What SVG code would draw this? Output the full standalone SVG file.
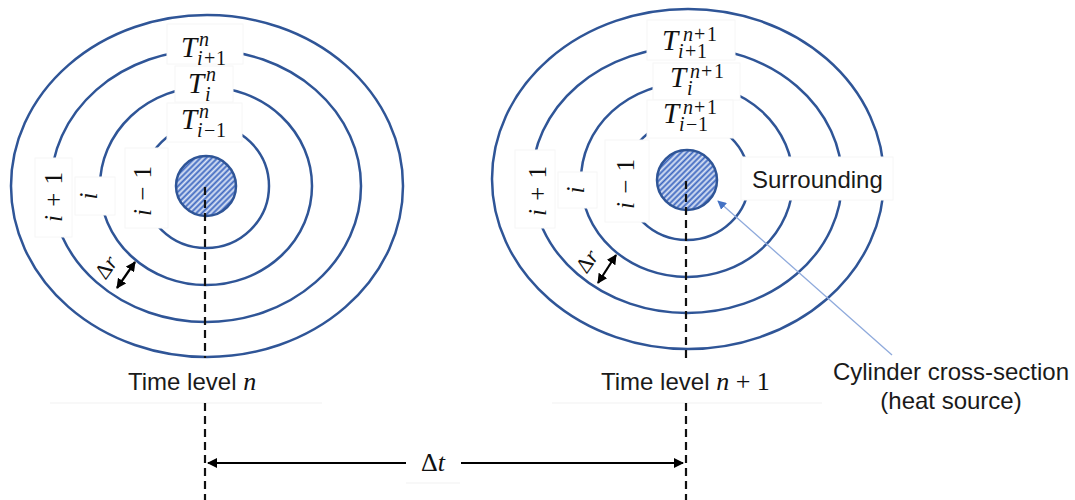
<svg xmlns="http://www.w3.org/2000/svg" width="1075" height="500" viewBox="0 0 1075 500">
<style>
.ring{fill:none;stroke:#2F5597;stroke-width:2.5}
.box{fill:#fff;stroke:#f6f6f6;stroke-width:1}
.m{font-family:"Liberation Serif","DejaVu Serif",serif;fill:#111}
.it{font-style:italic}
.T{font-size:29px;font-style:italic}
.sc{font-size:20px}
.lab{font-size:25px}
.s{font-family:"Liberation Sans",Arial,sans-serif;font-size:24px;fill:#1a1a1a}
.dash{stroke:#111;stroke-width:2.2;stroke-dasharray:8 5;fill:none}
.arr{stroke:#000;stroke-width:2.2;fill:none}
.faint{stroke:#f1f1f1;stroke-width:1;fill:none}
</style>
<defs>
<pattern id="hatch" patternUnits="userSpaceOnUse" width="4" height="4" patternTransform="rotate(-45)">
<rect width="4" height="4" fill="#dfe7f6"/>
<line x1="0" y1="1.5" x2="4" y2="1.5" stroke="#3d67c0" stroke-width="2"/>
</pattern>
<marker id="ah" viewBox="0 0 10 10" refX="9" refY="5" markerWidth="10" markerHeight="10" markerUnits="userSpaceOnUse" orient="auto-start-reverse">
<path d="M0,0 L10,5 L0,10 z" fill="#000"/>
</marker>
<marker id="bh" viewBox="0 0 10 10" refX="9" refY="5" markerWidth="9" markerHeight="9" markerUnits="userSpaceOnUse" orient="auto">
<path d="M0,0 L10,5 L0,10 z" fill="#4472C4"/>
</marker>
</defs>
<rect width="1075" height="500" fill="#fff"/>

<g id="left-figure">
<g id="left-rings">
<ellipse class="ring" cx="207" cy="186" rx="196" ry="171"/>
<ellipse class="ring" cx="206" cy="186" rx="155" ry="136"/>
<ellipse class="ring" cx="206" cy="186" rx="106" ry="99"/>
<ellipse class="ring" cx="206" cy="186" rx="63" ry="62"/>
</g>
<g id="left-cylinder">
<circle cx="206" cy="186" r="30" fill="url(#hatch)" stroke="#2F5597" stroke-width="2.5"/>
</g>
<g id="left-T-ip1">
<rect class="box" x="167" y="24" width="76" height="40"/>
<text class="m"><tspan class="T" x="181" y="57">T</tspan><tspan class="sc it" x="199" y="46">n</tspan><tspan class="sc it" x="197" y="65">i</tspan><tspan class="sc" x="204" y="65">+</tspan><tspan class="sc" x="216" y="65">1</tspan></text>
</g>
<g id="left-T-i">
<rect class="box" x="175" y="66" width="58" height="36"/>
<text class="m"><tspan class="T" x="188" y="93">T</tspan><tspan class="sc it" x="206" y="81">n</tspan><tspan class="sc it" x="205" y="101">i</tspan></text>
</g>
<g id="left-T-im1">
<rect class="box" x="167" y="103" width="75" height="39"/>
<text class="m"><tspan class="T" x="181" y="129">T</tspan><tspan class="sc it" x="199" y="118">n</tspan><tspan class="sc it" x="197" y="137">i</tspan><tspan class="sc" x="204" y="137">−</tspan><tspan class="sc" x="216" y="137">1</tspan></text>
</g>
<g id="left-lab-ip1">
<rect class="box" x="35" y="158" width="37" height="79"/>
<text class="m lab" transform="translate(62,197) rotate(-90)" text-anchor="middle" word-spacing="2"><tspan class="it">i</tspan> + 1</text>
</g>
<g id="left-lab-i">
<rect class="box" x="75" y="177" width="40" height="38"/>
<text class="m lab it" transform="translate(97,196) rotate(-90)" text-anchor="middle">i</text>
</g>
<g id="left-lab-im1">
<rect class="box" x="125" y="148" width="43" height="80"/>
<text class="m lab" transform="translate(151,191) rotate(-90)" text-anchor="middle" word-spacing="2"><tspan class="it">i</tspan> − 1</text>
</g>
<g id="left-dr">
<text class="m" font-size="22" transform="translate(107,268) rotate(-55)" text-anchor="middle" y="6">Δ<tspan class="it">r</tspan></text>
</g>
<g id="left-time">
<text class="s" x="128" y="390">Time level <tspan class="m it" font-size="26">n</tspan></text>
</g>
</g>

<g id="right-figure">
<g id="right-rings">
<ellipse class="ring" cx="688" cy="179" rx="196" ry="170"/>
<ellipse class="ring" cx="687" cy="180" rx="155" ry="133"/>
<ellipse class="ring" cx="687" cy="180" rx="106" ry="97"/>
<ellipse class="ring" cx="687" cy="180" rx="62" ry="60"/>
</g>
<g id="right-cylinder">
<circle cx="687" cy="180" r="30" fill="url(#hatch)" stroke="#2F5597" stroke-width="2.5"/>
</g>
<g id="right-T-ip1">
<rect class="box" x="647" y="20" width="88" height="40"/>
<text class="m"><tspan class="T" x="662" y="50">T</tspan><tspan class="sc it" x="683" y="41">n</tspan><tspan class="sc" x="694" y="41">+</tspan><tspan class="sc" x="707" y="41">1</tspan><tspan class="sc it" x="678" y="58">i</tspan><tspan class="sc" x="685" y="58">+</tspan><tspan class="sc" x="697" y="58">1</tspan></text>
</g>
<g id="right-T-i">
<rect class="box" x="653" y="63" width="87" height="37"/>
<text class="m"><tspan class="T" x="670" y="87">T</tspan><tspan class="sc it" x="690" y="78">n</tspan><tspan class="sc" x="701" y="78">+</tspan><tspan class="sc" x="714" y="78">1</tspan><tspan class="sc it" x="687" y="95">i</tspan></text>
</g>
<g id="right-T-im1">
<rect class="box" x="647" y="100" width="86" height="38"/>
<text class="m"><tspan class="T" x="663" y="123">T</tspan><tspan class="sc it" x="683" y="114">n</tspan><tspan class="sc" x="694" y="114">+</tspan><tspan class="sc" x="707" y="114">1</tspan><tspan class="sc it" x="679" y="131">i</tspan><tspan class="sc" x="686" y="131">−</tspan><tspan class="sc" x="698" y="131">1</tspan></text>
</g>
<g id="right-lab-ip1">
<rect class="box" x="515" y="150" width="40" height="78"/>
<text class="m lab" transform="translate(546,191) rotate(-90)" text-anchor="middle" word-spacing="2"><tspan class="it">i</tspan> + 1</text>
</g>
<g id="right-lab-i">
<rect class="box" x="558" y="172" width="39" height="36"/>
<text class="m lab it" transform="translate(584,190) rotate(-90)" text-anchor="middle">i</text>
</g>
<g id="right-lab-im1">
<rect class="box" x="605" y="140" width="44" height="82"/>
<text class="m lab" transform="translate(634,184) rotate(-90)" text-anchor="middle" word-spacing="2"><tspan class="it">i</tspan> − 1</text>
</g>
<g id="surrounding">
<rect class="box" x="741" y="157" width="152" height="43"/>
<text class="s" x="752" y="188">Surrounding</text>
</g>
<g id="right-dr">
<text class="m" font-size="22" transform="translate(588,262) rotate(-55)" text-anchor="middle" y="6">Δ<tspan class="it">r</tspan></text>
</g>
<g id="right-time">
<text class="s" x="601" y="390">Time level <tspan class="m it" font-size="26">n</tspan><tspan class="m" font-size="26"> + 1</tspan></text>
</g>
</g>

<g id="cylinder-label">
<text class="s" x="951" y="380" text-anchor="middle">Cylinder cross-section</text>
<text class="s" x="951" y="409" text-anchor="middle">(heat source)</text>
</g>

<g id="dt-label">
<text class="m" font-size="26" x="433" y="471" text-anchor="middle">Δ<tspan class="it">t</tspan></text>
</g>

<g id="faint-lines">
<line class="faint" x1="50" y1="403" x2="322" y2="403"/>
<line class="faint" x1="552" y1="403" x2="822" y2="403"/>
<line class="faint" x1="406" y1="483" x2="460" y2="483"/>
</g>

<g id="connectors">
<line class="dash" x1="205" y1="187" x2="205" y2="358"/>
<line class="dash" x1="205" y1="403" x2="205" y2="500"/>
<line class="dash" x1="686" y1="181" x2="686" y2="360"/>
<line class="dash" x1="686" y1="403" x2="686" y2="500"/>
<line class="arr" x1="117" y1="288" x2="135" y2="262" marker-start="url(#ah)" marker-end="url(#ah)"/>
<line class="arr" x1="598" y1="283" x2="616" y2="255" marker-start="url(#ah)" marker-end="url(#ah)"/>
<line class="arr" x1="208" y1="463" x2="406" y2="463" marker-start="url(#ah)"/>
<line class="arr" x1="461" y1="463" x2="683" y2="463" marker-end="url(#ah)"/>
<line x1="892" y1="355" x2="718" y2="201" stroke="#8FAADC" stroke-width="1.3" marker-end="url(#bh)"/>
</g>
</svg>
